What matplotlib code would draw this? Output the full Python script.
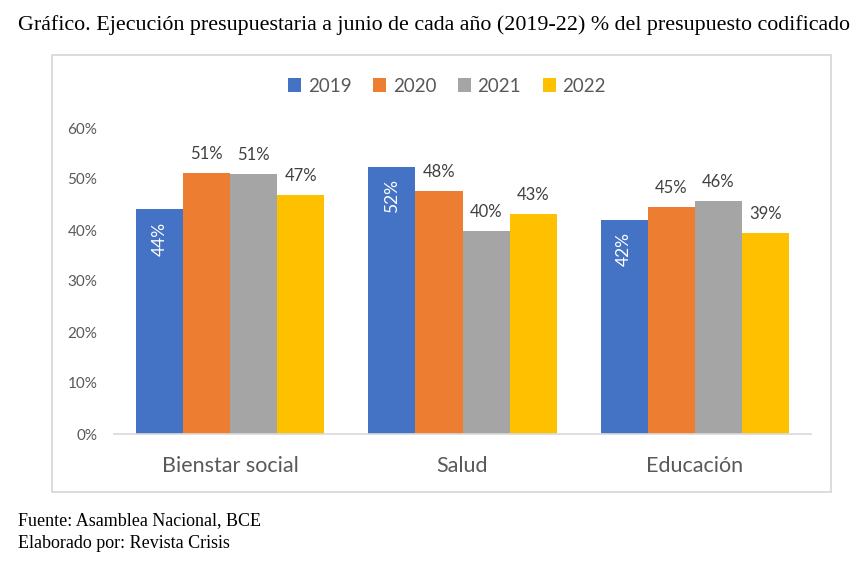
import matplotlib
matplotlib.use("Agg")
import matplotlib.pyplot as plt
from matplotlib.patches import Rectangle
import numpy as np

categories = ["Bienstar social", "Salud", "Educación"]
years = ["2019", "2020", "2021", "2022"]
v2019 = [44.1, 52.4, 42.0]
v2020 = [51.2, 47.7, 44.5]
v2021 = [51.0, 39.8, 45.7]
v2022 = [46.9, 43.1, 39.4]
labels2019 = ["44%", "52%", "42%"]
labels2020 = ["51%", "48%", "45%"]
labels2021 = ["51%", "40%", "46%"]
labels2022 = ["47%", "43%", "39%"]
yticks = [0, 10, 20, 30, 40, 50, 60]
ytick_labels = ["0%", "10%", "20%", "30%", "40%", "50%", "60%"]

series = [v2019, v2020, v2021, v2022]
series_labels = [labels2019, labels2020, labels2021, labels2022]
colors = ["#4472C4", "#ED7D31", "#A5A5A5", "#FFC000"]

W, H = 868, 567
fig = plt.figure(figsize=(W / 100, H / 100), dpi=100)
fig.patch.set_facecolor("white")

# chart frame
fig.patches.append(Rectangle((52 / W, 1 - 492 / H), 779 / W, 437 / H,
                             transform=fig.transFigure, fill=False,
                             edgecolor="#d9d9d9", linewidth=1.3))

ax = fig.add_axes([114 / W, 1 - 434 / H, (811 - 114) / W, (434 - 128) / H])
x = np.arange(len(categories))
bw = 0.203
offsets = (np.arange(4) - 1.5) * bw
for i, (vals, labs, col, yr) in enumerate(zip(series, series_labels, colors, years)):
    bars = ax.bar(x + offsets[i], vals, width=bw, color=col, label=yr, zorder=2)
    for b, v, lab in zip(bars, vals, labs):
        cx = b.get_x() + b.get_width() / 2
        if i == 0:
            ax.annotate(lab, (cx, v), xytext=(0, -9), textcoords="offset points",
                        ha="center", va="top", rotation=90, color="white",
                        fontsize=12.5, family="Lato")
        else:
            ax.annotate(lab, (cx, v), xytext=(0, 8), textcoords="offset points",
                        ha="center", va="bottom", color="#404040",
                        fontsize=12, family="Lato")

ax.set_xlim(-0.5, 2.5)
ax.set_ylim(0, 60)
ax.set_yticks(yticks)
ax.set_yticklabels(ytick_labels, family="Lato", fontsize=11, color="#595959")
ax.set_xticks(x)
ax.set_xticklabels(categories, family="Lato", fontsize=15.5, color="#595959")
ax.tick_params(axis="y", length=0, pad=12)
ax.tick_params(axis="x", length=0, pad=16)
for s in ["top", "right", "left"]:
    ax.spines[s].set_visible(False)
ax.spines["bottom"].set_color("#d9d9d9")
ax.spines["bottom"].set_linewidth(1.2)
ax.set_facecolor("none")

leg = fig.legend(loc="center", bbox_to_anchor=(447 / W, 1 - 86 / H), ncol=4,
                 frameon=False, prop={"family": "Lato", "size": 13.5},
                 handlelength=0.7, handleheight=0.7, handletextpad=0.35,
                 columnspacing=1.15)
for t in leg.get_texts():
    t.set_color("#595959")

fig.text(18 / W, 1 - 25 / H,
         "Gráfico. Ejecución presupuestaria a junio de cada año (2019-22) % del presupuesto codificado",
         family="Liberation Serif", fontsize=15.8, ha="left", va="center", color="black")
fig.text(18 / W, 1 - 521 / H, "Fuente: Asamblea Nacional, BCE",
         family="Liberation Serif", fontsize=13, ha="left", va="center", color="black")
fig.text(18 / W, 1 - 543 / H, "Elaborado por: Revista Crisis",
         family="Liberation Serif", fontsize=13, ha="left", va="center", color="black")

fig.savefig("out.png", dpi=100, facecolor="white")
